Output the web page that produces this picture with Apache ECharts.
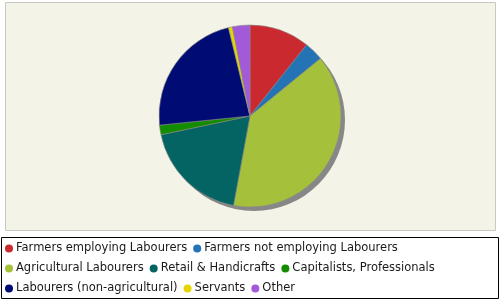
<!DOCTYPE html>
<html>
<head>
<meta charset="utf-8">
<script src="https://cdn.jsdelivr.net/npm/echarts@6/dist/echarts.min.js"></script>
<style>html,body{margin:0;padding:0;background:#fff;}#c{width:500px;height:300px;}</style>
</head>
<body>
<div id="c"></div>
<script>
var categories = ['Farmers employing Labourers','Farmers not employing Labourers','Agricultural Labourers','Retail & Handicrafts','Capitalists, Professionals','Labourers (non-agricultural)','Servants','Other'];
var values = [10.7, 3.4, 38.8, 18.8, 1.7, 22.8, 0.7, 3.1];
var colors = ['#cb2930','#2473b5','#a5c13c','#046463','#138c00','#000c74','#e6d600','#a25ad9'];

var chart = echarts.init(document.getElementById('c'), null, {renderer:'canvas'});
chart.setOption({
  animation: false,
  backgroundColor: '#ffffff',
  graphic: [
    {type:'rect', z:-10, shape:{x:5.5, y:2.5, width:490, height:228}, style:{fill:'#f3f3e7', stroke:'#c8c8c4', lineWidth:1}, silent:true},
    {type:'rect', z:-10, shape:{x:1.5, y:237.5, width:497, height:61}, style:{fill:'#ffffff', stroke:'#000000', lineWidth:1}, silent:true}
  ],
  legend: {
    data: categories,
    left: 5, top: 241.5, width: 490,
    icon: 'circle', itemWidth: 8, itemHeight: 8, itemGap: 6,
    padding: 0,
    itemStyle: {borderWidth: 0},
    textStyle: {fontFamily:'DejaVu Sans', fontSize: 11.5, color:'#1a1a1a', lineHeight: 14, padding:[0,0,0,-2]}
  },
  series: [
    {
      type:'pie', silent:true, center:[254,120], radius:91, z:1,
      label:{show:false}, labelLine:{show:false},
      itemStyle:{color:'#878787'},
      data:[{name:'_shadow', value:1}]
    },
    {
      type:'pie', center:[250,116], radius:91, startAngle:90, clockwise:true, z:2,
      label:{show:false}, labelLine:{show:false},
      itemStyle:{borderColor:'#8a8a8a', borderWidth:0.6},
      data: categories.map(function(n,i){return {name:n, value:values[i], itemStyle:{color:colors[i]}};})
    }
  ]
});
</script>
</body>
</html>
